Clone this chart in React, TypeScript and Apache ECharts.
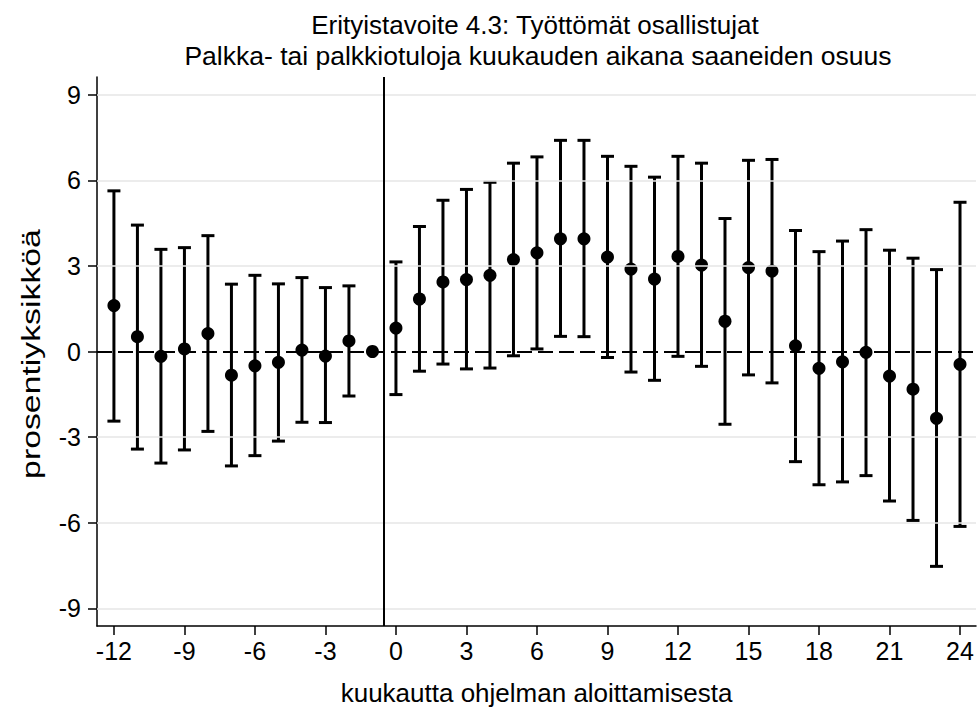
import React, { useEffect, useRef } from "react";
import * as echarts from "echarts";

const months = [-12, -11, -10, -9, -8, -7, -6, -5, -4, -3, -2, -1, 0, 1, 2, 3, 4, 5, 6, 7, 8, 9, 10, 11, 12, 13, 14, 15, 16, 17, 18, 19, 20, 21, 22, 23, 24];
const estimates = [1.61, 0.52, -0.17, 0.09, 0.63, -0.83, -0.5, -0.38, 0.05, -0.16, 0.37, 0, 0.82, 1.84, 2.44, 2.52, 2.67, 3.22, 3.46, 3.95, 3.95, 3.31, 2.89, 2.54, 3.33, 3.03, 1.06, 2.94, 2.82, 0.2, -0.59, -0.36, -0.03, -0.86, -1.32, -2.34, -0.45];
const lowerCI: (number | null)[] = [-2.44, -3.42, -3.91, -3.45, -2.8, -4.01, -3.65, -3.14, -2.48, -2.49, -1.56, null, -1.51, -0.69, -0.44, -0.61, -0.58, -0.15, 0.09, 0.53, 0.52, -0.21, -0.72, -1.01, -0.17, -0.52, -2.55, -0.82, -1.1, -3.86, -4.67, -4.57, -4.35, -5.24, -5.92, -7.53, -6.13];
const upperCI: (number | null)[] = [5.63, 4.43, 3.58, 3.64, 4.06, 2.36, 2.67, 2.37, 2.59, 2.24, 2.3, null, 3.14, 4.38, 5.3, 5.68, 5.93, 6.6, 6.82, 7.4, 7.4, 6.84, 6.49, 6.11, 6.84, 6.6, 4.66, 6.7, 6.73, 4.24, 3.5, 3.87, 4.27, 3.55, 3.27, 2.87, 5.23];
const xTicks = [-12, -9, -6, -3, 0, 3, 6, 9, 12, 15, 18, 21, 24];
const yTicks = [-9, -6, -3, 0, 3, 6, 9];
const yGridTicks = [-9, -6, -3, 3, 6, 9];
const titleLines = ["Erityistavoite 4.3: Työttömät osallistujat", "Palkka- tai palkkiotuloja kuukauden aikana saaneiden osuus"];
const xName = "kuukautta ohjelman aloittamisesta";
const yName = "prosentiyksikköä";
const baselineMonth = -0.5;

const FONT = "Liberation Sans, Arial, sans-serif";

export default function App() {
  const ref = useRef<HTMLDivElement>(null);
  useEffect(() => {
    if (!ref.current) return;
    const chart = echarts.init(ref.current, null, { renderer: "svg" });
    const barData = months
      .map((m, i) => [m, lowerCI[i], upperCI[i]])
      .filter((d) => d[1] !== null && d[2] !== null);
    const pointData = months.map((m, i) => [m, estimates[i]]);
    const gridData = yGridTicks.map((v) => ({ yAxis: v }));
    chart.setOption({
      animation: false,
      textStyle: { fontFamily: FONT },
      title: [
        {
          text: titleLines[0],
          left: 530,
          top: 7,
          textAlign: "center",
          textStyle: { fontFamily: FONT, fontSize: 26, fontWeight: "normal", color: "#000" },
        },
        {
          text: titleLines[1],
          left: 533,
          top: 37,
          textAlign: "center",
          textStyle: { fontFamily: FONT, fontSize: 26.5, fontWeight: "normal", color: "#000" },
        },
      ],
      graphic: [
        {
          type: "text",
          x: 31,
          y: 354,
          rotation: Math.PI / 2,
          scaleX: 1.3,
          silent: true,
          style: {
            text: yName,
            fontFamily: FONT,
            fontSize: 26,
            fill: "#000",
            align: "center",
            verticalAlign: "middle",
          },
        },
      ],
      grid: { left: 97, right: 3, top: 77, bottom: 83.5, containLabel: false },
      xAxis: {
        type: "value",
        min: -12.72,
        max: 24.68,
        name: xName,
        nameLocation: "middle",
        nameGap: 54,
        nameTextStyle: { fontFamily: FONT, fontSize: 26, color: "#000" },
        axisLine: { show: true, onZero: false, lineStyle: { color: "#000", width: 1.5 } },
        axisTick: { show: true, length: 9, customValues: xTicks, lineStyle: { color: "#000", width: 1.5 } },
        axisLabel: { customValues: xTicks, fontFamily: FONT, fontSize: 25, color: "#000", margin: 12 },
        splitLine: { show: false },
      },
      yAxis: {
        type: "value",
        min: -9.62,
        max: 9.62,
        axisLine: { show: true, onZero: false, lineStyle: { color: "#000", width: 1.5 } },
        axisTick: { show: true, length: 9, customValues: yTicks, lineStyle: { color: "#000", width: 1.5 } },
        axisLabel: { customValues: yTicks, fontFamily: FONT, fontSize: 25, color: "#000", margin: 16 },
        splitLine: { show: false },
      },
      series: [
        {
          type: "line",
          data: [],
          silent: true,
          markLine: {
            silent: true,
            symbol: "none",
            label: { show: false },
            lineStyle: { color: "#e6e6e6", width: 1.5, type: "solid" },
            data: gridData,
          },
        },
        {
          type: "custom",
          silent: true,
          clip: false,
          encode: { x: 0, y: [1, 2] },
          data: barData,
          renderItem: (params: any, api: any) => {
            const x = api.value(0);
            const lo = api.value(1);
            const hi = api.value(2);
            const pLo = api.coord([x, lo]);
            const pHi = api.coord([x, hi]);
            const hw = 6.5;
            const st = { stroke: "#000", lineWidth: 3 };
            return {
              type: "group",
              children: [
                { type: "line", shape: { x1: pLo[0], y1: pLo[1], x2: pHi[0], y2: pHi[1] }, style: st },
                { type: "line", shape: { x1: pHi[0] - hw, y1: pHi[1], x2: pHi[0] + hw, y2: pHi[1] }, style: st },
                { type: "line", shape: { x1: pLo[0] - hw, y1: pLo[1], x2: pLo[0] + hw, y2: pLo[1] }, style: st },
              ],
            };
          },
          z: 3,
        },
        {
          type: "scatter",
          data: pointData,
          symbol: "circle",
          symbolSize: 13,
          itemStyle: { color: "#000", opacity: 1 },
          silent: true,
          z: 4,
          markLine: {
            silent: true,
            symbol: "none",
            label: { show: false },
            data: [
              { yAxis: 0, lineStyle: { color: "#000", width: 2, type: [15, 6] } },
              { xAxis: baselineMonth, lineStyle: { color: "#000", width: 2, type: "solid" } },
            ],
          },
        },
      ],
    });
    return () => chart.dispose();
  }, []);
  return <div ref={ref} style={{ position: "absolute", left: 0, top: 0, width: 979, height: 711, background: "#fff" }} />;
}
